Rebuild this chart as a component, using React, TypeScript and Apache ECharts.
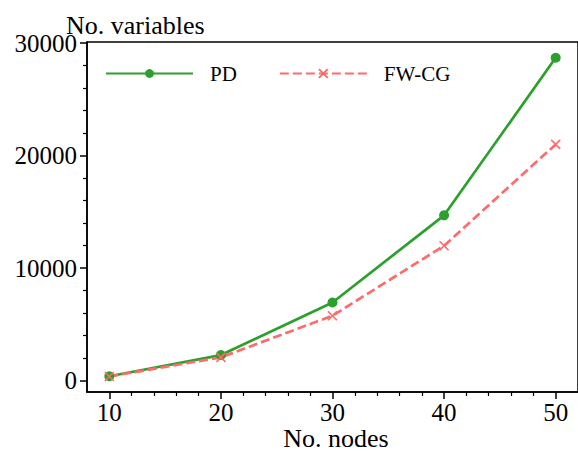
import React, { useEffect, useRef } from 'react';
import * as echarts from 'echarts';

const nodes = [10, 20, 30, 40, 50];
const pdValues = [400, 2280, 6950, 14700, 28700];
const fwcgValues = [380, 2080, 5780, 12000, 21000];
const seriesNames = ['PD', 'FW-CG'];
const xMajorTicks = [10, 20, 30, 40, 50];
const xMinorTicks = [12, 14, 16, 18, 22, 24, 26, 28, 32, 34, 36, 38, 42, 44, 46, 48];
const yMajorTicks = [0, 10000, 20000, 30000];
const yMinorTicks = [2000, 4000, 6000, 8000, 12000, 14000, 16000, 18000, 22000, 24000, 26000, 28000];
const xTitle = 'No. nodes';
const yTitle = 'No. variables';

const FONT = "'Liberation Serif', 'Times New Roman', serif";
const GREEN = '#2ca02c';
const RED = '#ff6b6b';

export default function App() {
  const ref = useRef<HTMLDivElement>(null);
  useEffect(() => {
    if (!ref.current) return;
    const chart = echarts.init(ref.current, undefined, { renderer: 'svg' });
    const xBase = {
      type: 'value',
      min: 8,
      max: 52,
      position: 'bottom',
      gridIndex: 0,
      splitLine: { show: false },
    };
    const yBase = {
      type: 'value',
      min: -1000,
      max: 30100,
      position: 'left',
      gridIndex: 0,
      splitLine: { show: false },
    };
    chart.setOption({
      animation: false,
      backgroundColor: '#fff',
      textStyle: { fontFamily: FONT },
      grid: {
        left: 87,
        top: 42,
        width: 499,
        height: 350,
        show: true,
        borderColor: '#000',
        borderWidth: 1.5,
        containLabel: false,
      },
      legend: {
        data: seriesNames,
        left: 105,
        top: 63,
        itemWidth: 87,
        itemHeight: 11,
        itemGap: 42,
        padding: 0,
        textStyle: { fontSize: 21, color: '#000', fontFamily: FONT, padding: [0, 0, 0, 12] },
      },
      xAxis: [
        {
          ...xBase,
          axisLine: { show: true, onZero: false, lineStyle: { color: '#000', width: 1.5 } },
          axisTick: { show: true, customValues: xMajorTicks, length: 7, lineStyle: { color: '#000', width: 1.5 } },
          axisLabel: { show: true, customValues: xMajorTicks, fontSize: 25, color: '#000', fontFamily: FONT, margin: 8, formatter: (v: number) => String(v) },
        },
        {
          ...xBase,
          axisLine: { show: false, onZero: false },
          axisTick: { show: true, customValues: xMinorTicks, length: 4, lineStyle: { color: '#000', width: 1.2 } },
          axisLabel: { show: false },
        },
      ],
      yAxis: [
        {
          ...yBase,
          axisLine: { show: true, onZero: false, lineStyle: { color: '#000', width: 1.5 } },
          axisTick: { show: true, customValues: yMajorTicks, length: 7, lineStyle: { color: '#000', width: 1.5 } },
          axisLabel: { show: true, customValues: yMajorTicks, fontSize: 25, color: '#000', fontFamily: FONT, margin: 10, formatter: (v: number) => String(v) },
        },
        {
          ...yBase,
          axisLine: { show: false, onZero: false },
          axisTick: { show: true, customValues: yMinorTicks, length: 4, lineStyle: { color: '#000', width: 1.2 } },
          axisLabel: { show: false },
        },
      ],
      graphic: [
        {
          type: 'text',
          x: 66,
          y: 25,
          style: { text: yTitle, font: `26px ${FONT}`, fill: '#000', verticalAlign: 'middle', align: 'left' },
        },
        {
          type: 'text',
          x: 336,
          y: 438,
          style: { text: xTitle, font: `26px ${FONT}`, fill: '#000', verticalAlign: 'middle', align: 'center' },
        },
      ],
      series: [
        {
          name: seriesNames[0],
          type: 'line',
          xAxisIndex: 0,
          yAxisIndex: 0,
          data: nodes.map((n, i) => [n, pdValues[i]]),
          symbol: 'circle',
          symbolSize: 10,
          itemStyle: { color: GREEN },
          lineStyle: { color: GREEN, width: 2.7 },
        },
        {
          name: seriesNames[1],
          type: 'line',
          xAxisIndex: 0,
          yAxisIndex: 0,
          data: nodes.map((n, i) => [n, fwcgValues[i]]),
          symbol: 'path://M0,0L10,10M10,0L0,10',
          symbolSize: 9,
          itemStyle: { color: RED, borderColor: RED, borderWidth: 1.6 },
          lineStyle: { color: RED, width: 2.7, type: [9, 4] },
        },
      ],
    });
    return () => chart.dispose();
  }, []);
  return (
    <div
      ref={ref}
      style={{ position: 'fixed', left: 0, top: 0, width: 578, height: 451 }}
    />
  );
}
